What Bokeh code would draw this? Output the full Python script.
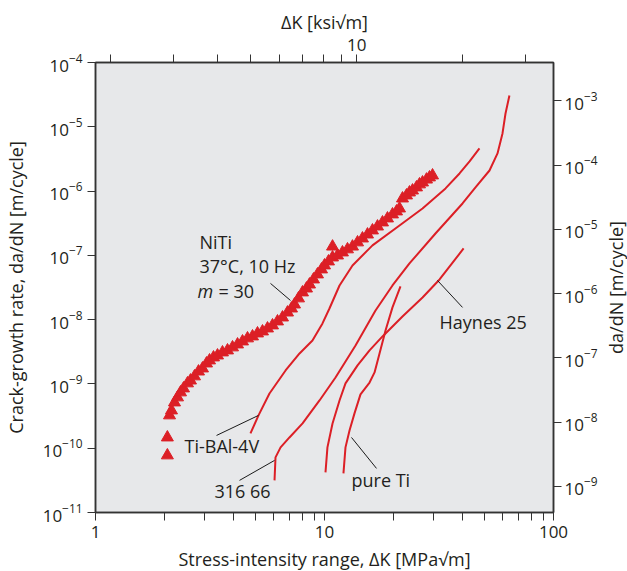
import math
from bokeh.plotting import figure
from bokeh.layouts import row
from bokeh.models import (LogAxis, Range1d, LogScale, FixedTicker,
                          BasicTickFormatter, CustomJSTickFormatter)
from bokeh.core.properties import value
from bokeh.embed import file_html
from bokeh.resources import INLINE

# ---------------- data ----------------
# NiTi, 37 C, 10 Hz (triangles)
niti_dk = [2.06, 2.06, 2.105, 2.147, 2.213, 2.281, 2.351, 2.423, 2.522, 2.599, 2.706,
           2.817, 2.933, 3.053, 3.147, 3.276, 3.41, 3.585, 3.771, 3.966, 4.171, 4.385,
           4.611, 4.849, 5.099, 5.361, 5.638, 5.929, 6.234, 6.556, 6.894, 7.177, 7.396,
           7.70, 8.015, 8.344, 8.60, 8.954, 9.32, 9.703, 10.0, 10.41, 10.84, 11.40,
           11.98, 12.60, 13.25, 13.94, 14.65, 15.41, 16.20, 17.04, 17.92, 18.84, 19.81,
           20.63, 21.26, 21.91, 22.81, 23.50, 24.23, 25.22, 25.99, 26.79, 27.89, 28.74,
           29.63, 10.84]
niti_rate = [7.73e-11, 1.47e-10, 3.24e-10, 3.87e-10, 5.15e-10, 6.17e-10, 7.38e-10,
             8.51e-10, 1.02e-9, 1.13e-9, 1.31e-9, 1.56e-9, 1.74e-9, 2.08e-9, 2.32e-9,
             2.58e-9, 2.77e-9, 3.09e-9, 3.32e-9, 3.70e-9, 4.11e-9, 4.58e-9, 5.11e-9,
             5.48e-9, 6.10e-9, 6.55e-9, 7.29e-9, 8.13e-9, 9.38e-9, 1.08e-8, 1.29e-8,
             1.49e-8, 1.72e-8, 2.14e-8, 2.65e-8, 3.05e-8, 3.52e-8, 4.22e-8, 5.05e-8,
             6.04e-8, 6.97e-8, 8.04e-8, 9.27e-8, 9.95e-8, 1.11e-7, 1.24e-7, 1.37e-7,
             1.59e-7, 1.83e-7, 2.11e-7, 2.44e-7, 2.81e-7, 3.25e-7, 3.75e-7, 4.33e-7,
             4.82e-7, 5.36e-7, 7.67e-7, 8.55e-7, 9.51e-7, 1.02e-6, 1.14e-6, 1.27e-6,
             1.36e-6, 1.51e-6, 1.63e-6, 1.75e-6, 1.37e-7]

# Ti-6Al-4V
ti64_dk = [4.75, 5.15, 5.75, 6.76, 7.78, 8.86, 9.80, 10.51, 11.63, 13.25, 16.20,
           21.26, 26.79, 33.77, 38.87, 43.0, 47.5]
ti64_rate = [1.70e-10, 3.24e-10, 7.11e-10, 1.62e-9, 2.98e-9, 4.75e-9, 8.73e-9,
             1.49e-8, 3.40e-8, 6.97e-8, 1.43e-7, 2.92e-7, 5.36e-7, 1.10e-6, 1.88e-6,
             2.89e-6, 4.60e-6]

# 316 stainless
ss316_dk = [6.05, 6.11, 6.43, 7.03, 8.02, 9.51, 11.17, 13.66, 16.70, 19.81, 23.50,
            30.52, 40.06, 45.64, 52.54, 56.95, 59.88, 61.72, 64.2]
ss316_rate = [3.16e-11, 7.2e-11, 1.03e-10, 1.47e-10, 2.43e-10, 5.53e-10, 1.26e-9,
              3.97e-9, 1.39e-8, 3.40e-8, 7.48e-8, 2.19e-7, 6.41e-7, 1.14e-6, 2.09e-6,
              3.85e-6, 7.87e-6, 1.61e-5, 3.07e-5]

# Haynes 25
haynes_dk = [10.10, 10.30, 10.84, 11.63, 12.35, 13.94, 15.73, 17.92, 21.9, 26.8,
             31.8, 40.5]
haynes_rate = [4.21e-11, 1.03e-10, 2.43e-10, 5.53e-10, 1.02e-9, 1.94e-9, 3.32e-9,
               5.48e-9, 1.12e-8, 2.21e-8, 4.22e-8, 1.28e-7]

# pure Ti
pureti_dk = [12.1, 12.35, 12.86, 13.52, 14.36, 15.73, 16.54, 17.39, 18.47, 19.81, 21.47]
pureti_rate = [4.06e-11, 1.03e-10, 1.89e-10, 3.48e-10, 6.87e-10, 1.05e-9, 1.51e-9,
               2.98e-9, 6.79e-9, 1.55e-8, 3.28e-8]

# axis ticks
x_major = [1, 10, 100]
x_minor = [2, 3, 4, 5, 6, 7, 8, 9, 20, 30, 40, 50, 60, 70, 80, 90]
y_major = [1e-11, 1e-10, 1e-9, 1e-8, 1e-7, 1e-6, 1e-5, 1e-4]
right_major = [1e-9, 1e-8, 1e-7, 1e-6, 1e-5, 1e-4, 1e-3]
top_major = [13.84]
top_label = "10"
top_minor = [1.166, 2.191, 3.41, 4.767, 6.342, 8.015, 9.90, 11.90, 40.06, 75.7]
IN_PER_M = 39.37

# annotation texts and leader lines
notes = [
    ("NiTi", 2.846, 1.59e-7),
    ("37\u00b0C, 10 Hz", 2.846, 6.72e-8),
    ("Ti-BAl-4V", 2.447, 1.07e-10),
    ("316 66", 3.309, 2.13e-11),
    ("pure Ti", 13.12, 3.16e-11),
    ("Haynes 25", 31.8, 9.04e-9),
]
m_note = ("m", 2.789, 2.84e-8)
eq_note = ("= 30", 3.444, 2.84e-8)
leaders = [
    ((5.81, 7.10), (3.66e-8, 1.99e-8)),
    ((3.377, 5.15), (1.58e-10, 3.24e-10)),
    ((4.255, 6.05), (3.16e-11, 6.46e-11)),
    ((13.12, 16.87), (1.47e-10, 4.85e-11)),
    ((31.14, 40.06), (4.07e-8, 1.55e-8)),
]

# ---------------- style ----------------
RED = "#dc1f26"
TXT = "#231f20"
AX = "#333333"
FONT = "Open Sans"

p = figure(frame_width=458, frame_height=450, x_axis_type="log", y_axis_type="log",
           x_range=Range1d(1, 100), y_range=Range1d(1e-11, 1e-4),
           output_backend="svg", toolbar_location=None,
           min_border_left=93, min_border_right=46, min_border_top=62,
           min_border_bottom=59,
           background_fill_color="#e7e8ea", border_fill_color="white")
p.xgrid.visible = False
p.ygrid.visible = False
p.outline_line_color = AX
p.outline_line_width = 1.5

right_lo, right_hi = 1e-11 * IN_PER_M, 1e-4 * IN_PER_M
p.extra_y_ranges = {"right": Range1d(right_lo, right_hi)}
p.extra_y_scales = {"right": LogScale()}


def style_axis(ax, standoff, label, label_standoff):
    ax.axis_line_color = AX
    ax.axis_line_width = 1.5
    ax.major_tick_line_color = AX
    ax.minor_tick_line_color = AX
    ax.major_tick_line_width = 1
    ax.minor_tick_line_width = 1
    ax.major_tick_out = 8
    ax.major_tick_in = 0
    ax.minor_tick_out = 8
    ax.minor_tick_in = 0
    ax.major_label_text_font = FONT
    ax.major_label_text_font_size = "17px"
    ax.major_label_text_color = TXT
    ax.major_label_standoff = standoff
    ax.axis_label = label
    ax.axis_label_text_font = FONT
    ax.axis_label_text_font_size = "18px"
    ax.axis_label_text_font_style = "normal"
    ax.axis_label_text_color = TXT
    ax.axis_label_standoff = label_standoff


xb = p.xaxis[0]
xb.ticker = FixedTicker(ticks=x_major, minor_ticks=x_minor)
xb.formatter = BasicTickFormatter()
style_axis(xb, 5, "Stress-intensity range, \u0394K [MPa\u221am]", 6)

yl = p.yaxis[0]
yl.ticker = FixedTicker(ticks=y_major, minor_ticks=[])
style_axis(yl, 5, "Crack-growth rate, da/dN [m/cycle]", 12)

yr = LogAxis(y_range_name="right",
             ticker=FixedTicker(ticks=right_major, minor_ticks=[]))
style_axis(yr, 3, None, 0)
p.add_layout(yr, "right")

xt = LogAxis(ticker=FixedTicker(ticks=top_major, minor_ticks=top_minor),
             formatter=CustomJSTickFormatter(code="return '%s';" % top_label))
style_axis(xt, 4, "\u0394K [ksi\u221am]", 2)
p.add_layout(xt, "above")

# ---------------- data marks ----------------
for dk, rate in [(ti64_dk, ti64_rate), (ss316_dk, ss316_rate),
                 (haynes_dk, haynes_rate), (pureti_dk, pureti_rate)]:
    p.line(dk, rate, line_color=RED, line_width=2)

p.scatter(niti_dk, niti_rate, marker="triangle", size=12,
          fill_color=RED, line_color=RED)

for xs, ys in leaders:
    p.line(list(xs), list(ys), line_color="#1a1a1a", line_width=1)

p.text([n[1] for n in notes], [n[2] for n in notes], text=[n[0] for n in notes],
       text_font=value(FONT), text_font_size="18px", text_color=TXT,
       text_align="left", text_baseline="middle")
p.text([m_note[1]], [m_note[2]], text=[m_note[0]], text_font=value(FONT),
       text_font_size="18px", text_font_style="italic", text_color=TXT,
       text_align="left", text_baseline="middle")
p.text([eq_note[1]], [eq_note[2]], text=[eq_note[0]], text_font=value(FONT),
       text_font_size="18px", text_color=TXT,
       text_align="left", text_baseline="middle")

# ---------------- right-hand title (bottom-to-top, like the reference) ----------------
p2 = figure(frame_width=1, frame_height=450, x_range=Range1d(0, 1),
            y_range=Range1d(0, 1), output_backend="svg", toolbar_location=None,
            min_border_left=0, min_border_right=0, min_border_top=62,
            min_border_bottom=59, outline_line_color=None,
            background_fill_color="white", border_fill_color="white")
p2.xaxis.visible = False
p2.grid.visible = False
ya = p2.yaxis[0]
ya.ticker = FixedTicker(ticks=[], minor_ticks=[])
ya.axis_line_color = None
ya.major_tick_out = 0
ya.major_tick_in = 0
ya.minor_tick_out = 0
ya.minor_tick_in = 0
ya.major_label_standoff = 0
ya.axis_label = "da/dN [m/cycle]"
ya.axis_label_text_font = FONT
ya.axis_label_text_font_size = "18px"
ya.axis_label_text_font_style = "normal"
ya.axis_label_text_color = TXT
ya.axis_label_standoff = 0

layout = row(p, p2, spacing=0)
open("out.html", "w").write(file_html(layout, INLINE))
